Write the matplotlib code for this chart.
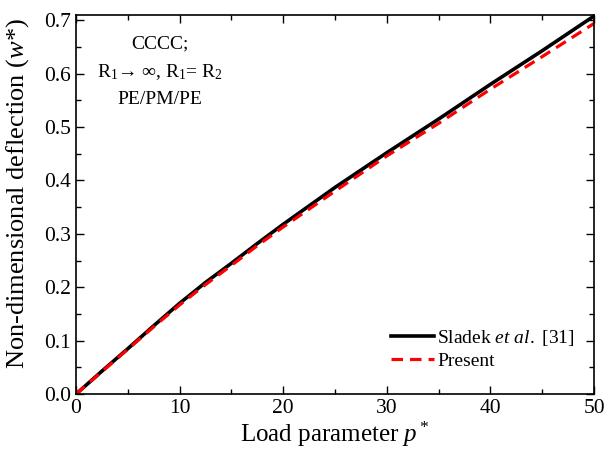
import matplotlib
matplotlib.use("Agg")
import matplotlib.pyplot as plt
from matplotlib.ticker import MultipleLocator

plt.rcParams['font.family'] = ['Liberation Serif', 'DejaVu Serif']
plt.rcParams['mathtext.fontset'] = 'custom'
plt.rcParams['mathtext.rm'] = 'Liberation Serif'
plt.rcParams['mathtext.it'] = 'Liberation Serif:italic'

p = [0, 2.5, 5, 7.5, 10, 12.5, 15, 17.5, 20, 25, 30, 35, 40, 45, 50]
w_sladek = [0, 0.043, 0.085, 0.128, 0.170, 0.209, 0.245, 0.282, 0.318, 0.387, 0.452, 0.515, 0.580, 0.643, 0.708]
w_present = [0, 0.042, 0.084, 0.126, 0.167, 0.205, 0.241, 0.278, 0.313, 0.380, 0.446, 0.507, 0.571, 0.632, 0.694]

fig = plt.figure(figsize=(6.06, 4.53), dpi=100)
ax = fig.add_axes([0.1254, 0.130, 0.8548, 0.837])

ax.plot(p, w_sladek, color='black', lw=2.6, label=r'Sladek $et$ $al.$ [31]')
ax.plot(p, w_present, color='red', lw=2.3, ls=(0, (3.6, 2.2)), label='Present')

ax.set_xlim(0, 50)
ax.set_ylim(0, 0.71)
ax.xaxis.set_major_locator(MultipleLocator(10))
ax.xaxis.set_minor_locator(MultipleLocator(5))
ax.yaxis.set_major_locator(MultipleLocator(0.1))
ax.yaxis.set_minor_locator(MultipleLocator(0.05))
ax.yaxis.set_major_formatter(matplotlib.ticker.FormatStrFormatter('%.1f'))
ax.tick_params(which='both', direction='in', top=True, right=True, labelsize=15.5, width=1)
ax.tick_params(which='major', length=6)
ax.tick_params(which='minor', length=3.5)
for s in ax.spines.values():
    s.set_linewidth(1.2)

ax.set_xlabel(r'Load parameter $p^*$', fontsize=18, labelpad=1)
ax.set_ylabel(r'Non-dimensional deflection ($w$*)', fontsize=19)
ax.yaxis.set_label_coords(-0.087, 0.53)

ax.text(0.162, 0.945, 'CCCC;\nR$_{\\mathregular{1}}$→ ∞, R$_{\\mathregular{1}}$= R$_{\\mathregular{2}}$\nPE/PM/PE',
        transform=ax.transAxes, ha='center', va='top', fontsize=14, linespacing=1.65)

leg = ax.legend(loc='lower right', frameon=False, fontsize=14, handlelength=2.25,
                handletextpad=0.15, borderaxespad=0.85, labelspacing=0.2,
                bbox_to_anchor=(1.01, 0.0))

fig.savefig('out.png', dpi=100)
